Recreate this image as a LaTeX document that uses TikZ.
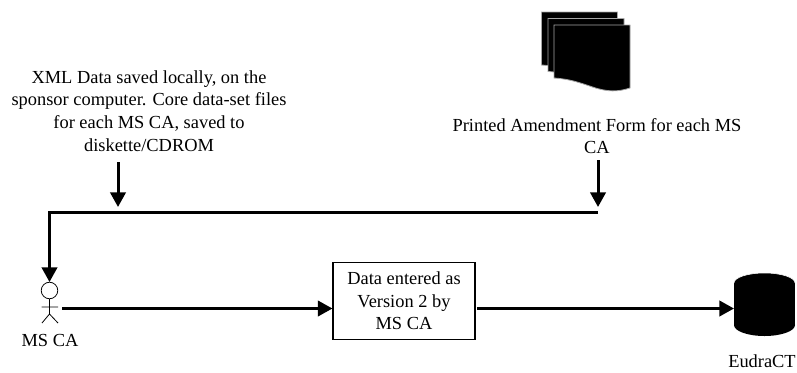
\documentclass[tikz,border=0pt]{standalone}
\usepackage{fontspec}
\setmainfont{Liberation Serif}
\usetikzlibrary{arrows.meta}
\tikzset{
 conn/.style={line width=2.25pt,-{Triangle[length=11pt,width=11.5pt]}},
 lab/.style={align=center,font=\fontsize{13.8pt}{17pt}\selectfont,inner sep=0pt},
 sheet/.style={fill=black,draw=gray!70,line width=.6pt},
}
\begin{document}
\begin{tikzpicture}[x=1pt,y=-1pt,scale=0.75]
\useasboundingbox (0,0) rectangle (797,372);
% documents
\foreach \dx/\dy in {0/0,6.5/6.5,12.5/13}{
 \draw[sheet] (541.5+\dx,12+\dy) -- (617.5+\dx,12+\dy) -- (617.5+\dx,75+\dy)
   .. controls (605+\dx,79+\dy) and (595+\dx,79+\dy) .. (580+\dx,74+\dy)
   .. controls (568+\dx,70+\dy) and (558+\dx,66+\dy) .. (541.5+\dx,65+\dy) -- cycle;
}
\node[lab] (form) at (597,136) {Printed Amendment Form for each MS\\CA};
\node[lab] (xml) at (149,111) {XML Data saved locally, on the\\sponsor computer.  Core data-set files\\for each MS CA, saved to\\diskette/CDROM};
\coordinate (joinA) at (118,207);
\coordinate (joinB) at (598,212);
\coordinate (tipB) at (598,207);
\coordinate (corner) at (49.5,212);
\coordinate (xmlb) at (118,162);
\coordinate (formb) at (598,160);
\coordinate (head) at (49.5,282);
% actor
\node[circle,draw,line width=.6pt,minimum size=12.4pt,inner sep=0pt] (hd) at (49.5,290.5) {};
\coordinate (neck) at (49.5,299);
\coordinate (hip) at (49.5,314);
\coordinate (armL) at (41.5,307);
\coordinate (armR) at (58,307);
\coordinate (legL) at (42,323);
\coordinate (legR) at (58,323);
\draw[line width=.6pt] (neck)--(hip) (armL)--(armR) (legL)--(hip)--(legR);
\node[lab] (msca) at (50,340) {MS CA};
\node[draw,line width=.8pt,lab,minimum width=106.5pt,minimum height=58pt] (box) at (404,301) {Data entered as\\Version 2 by\\MS CA};
\coordinate (actR) at (62,308.5);
% cylinder
\fill (764.5,283) ellipse (30.5 and 10);
\fill (734,283) rectangle (795,325);
\fill (764.5,325) ellipse (30.5 and 11);
\draw[white,line width=.4pt] (734,283) arc[start angle=180,end angle=360,x radius=30.5,y radius=10];
\coordinate (cyl) at (734,308.5);
\coordinate (boxout) at (477,308.5);
\node[lab] (eud) at (762,361.5) {EudraCT};
\draw[conn] (xmlb) -- (joinA);
\draw[conn] (formb) -- (tipB);
\draw[conn] (joinB) -- (corner) -- (head);
\draw[conn] (actR) -- (box.west |- actR);
\draw[conn] (boxout) -- (cyl);
\end{tikzpicture}
\end{document}
